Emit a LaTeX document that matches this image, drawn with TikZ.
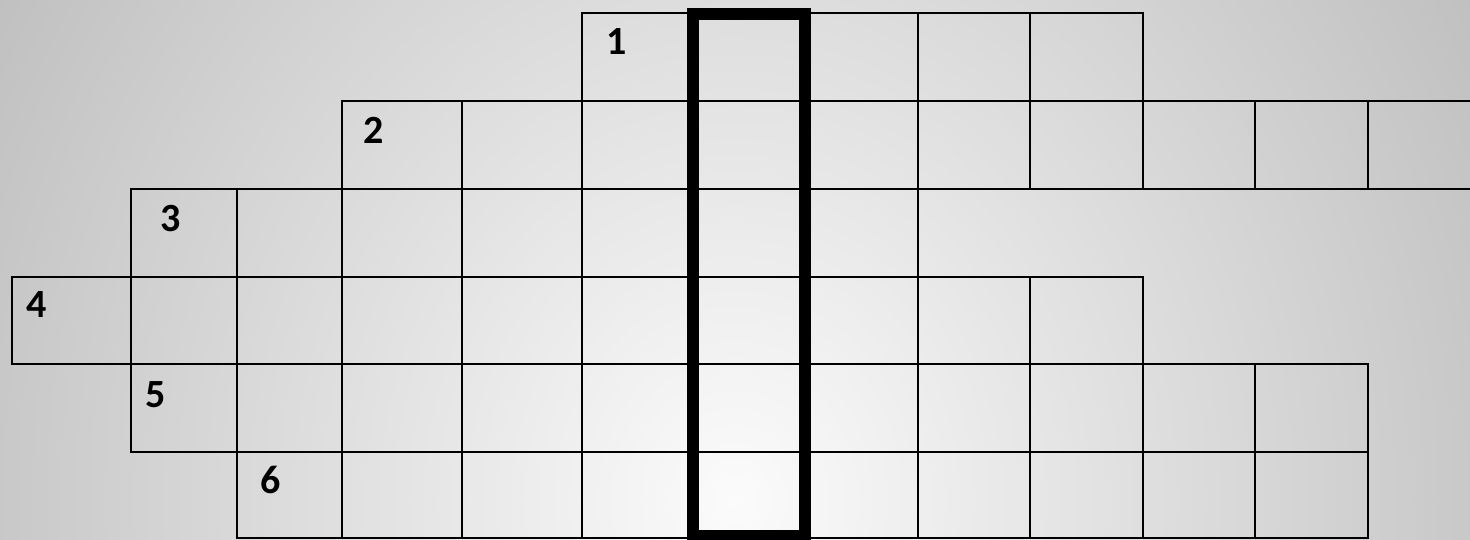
\documentclass[tikz,border=0pt]{standalone}
\usepackage{fontspec}
\setmainfont{Carlito}
\definecolor{bgin}{RGB}{251,251,251}
\definecolor{bgout}{RGB}{182,182,182}
\begin{document}
\begin{tikzpicture}[x=1pt,y=-1pt,
  cell/.style={draw=black, line width=2pt},
  keycol/.style={draw=black, line width=12pt},
  lbl/.style={font=\fontsize{40}{48}\bfseries\selectfont, inner sep=0pt, text=black}]
\useasboundingbox (0,0) rectangle (1470,539);
\begin{scope}
  \clip (0,0) rectangle (1470,539);
  \fill[bgout] (0,0) rectangle (1470,539);
  \shade[inner color=bgin, outer color=bgout] (735,500) ellipse [x radius=1000, y radius=1160];
\end{scope}
% row 1
\foreach \a/\b in {582/693,693/805,805/918,918/1030,1030/1143}
  \draw[cell] (\a,13) rectangle (\b,101);
% row 2
\foreach \a/\b in {342/462,462/582,582/693,693/805,805/918,918/1030,1030/1143,1143/1255,1255/1368,1368/1480}
  \draw[cell] (\a,101) rectangle (\b,189);
% row 3
\foreach \a/\b in {131/237,237/342,342/462,462/582,582/693,693/805,805/918}
  \draw[cell] (\a,189) rectangle (\b,277);
% row 4
\foreach \a/\b in {12/131,131/237,237/342,342/462,462/582,582/693,693/805,805/918,918/1030,1030/1143}
  \draw[cell] (\a,277) rectangle (\b,364);
% row 5
\foreach \a/\b in {131/237,237/342,342/462,462/582,582/693,693/805,805/918,918/1030,1030/1143,1143/1255,1255/1368}
  \draw[cell] (\a,364) rectangle (\b,452);
% row 6
\foreach \a/\b in {237/342,342/462,462/582,582/693,693/805,805/918,918/1030,1030/1143,1143/1255,1255/1368}
  \draw[cell] (\a,452) rectangle (\b,538);
% key column
\draw[keycol] (693,14) rectangle (805,536);
% labels
\node[lbl] (n1) at (617,42) {1};
\node[lbl] (n2) at (374,130) {2};
\node[lbl] (n3) at (171,219) {3};
\node[lbl] (n4) at (37,305) {4};
\node[lbl] (n5) at (156,395) {5};
\node[lbl] (n6) at (271,480) {6};
\end{tikzpicture}
\end{document}
